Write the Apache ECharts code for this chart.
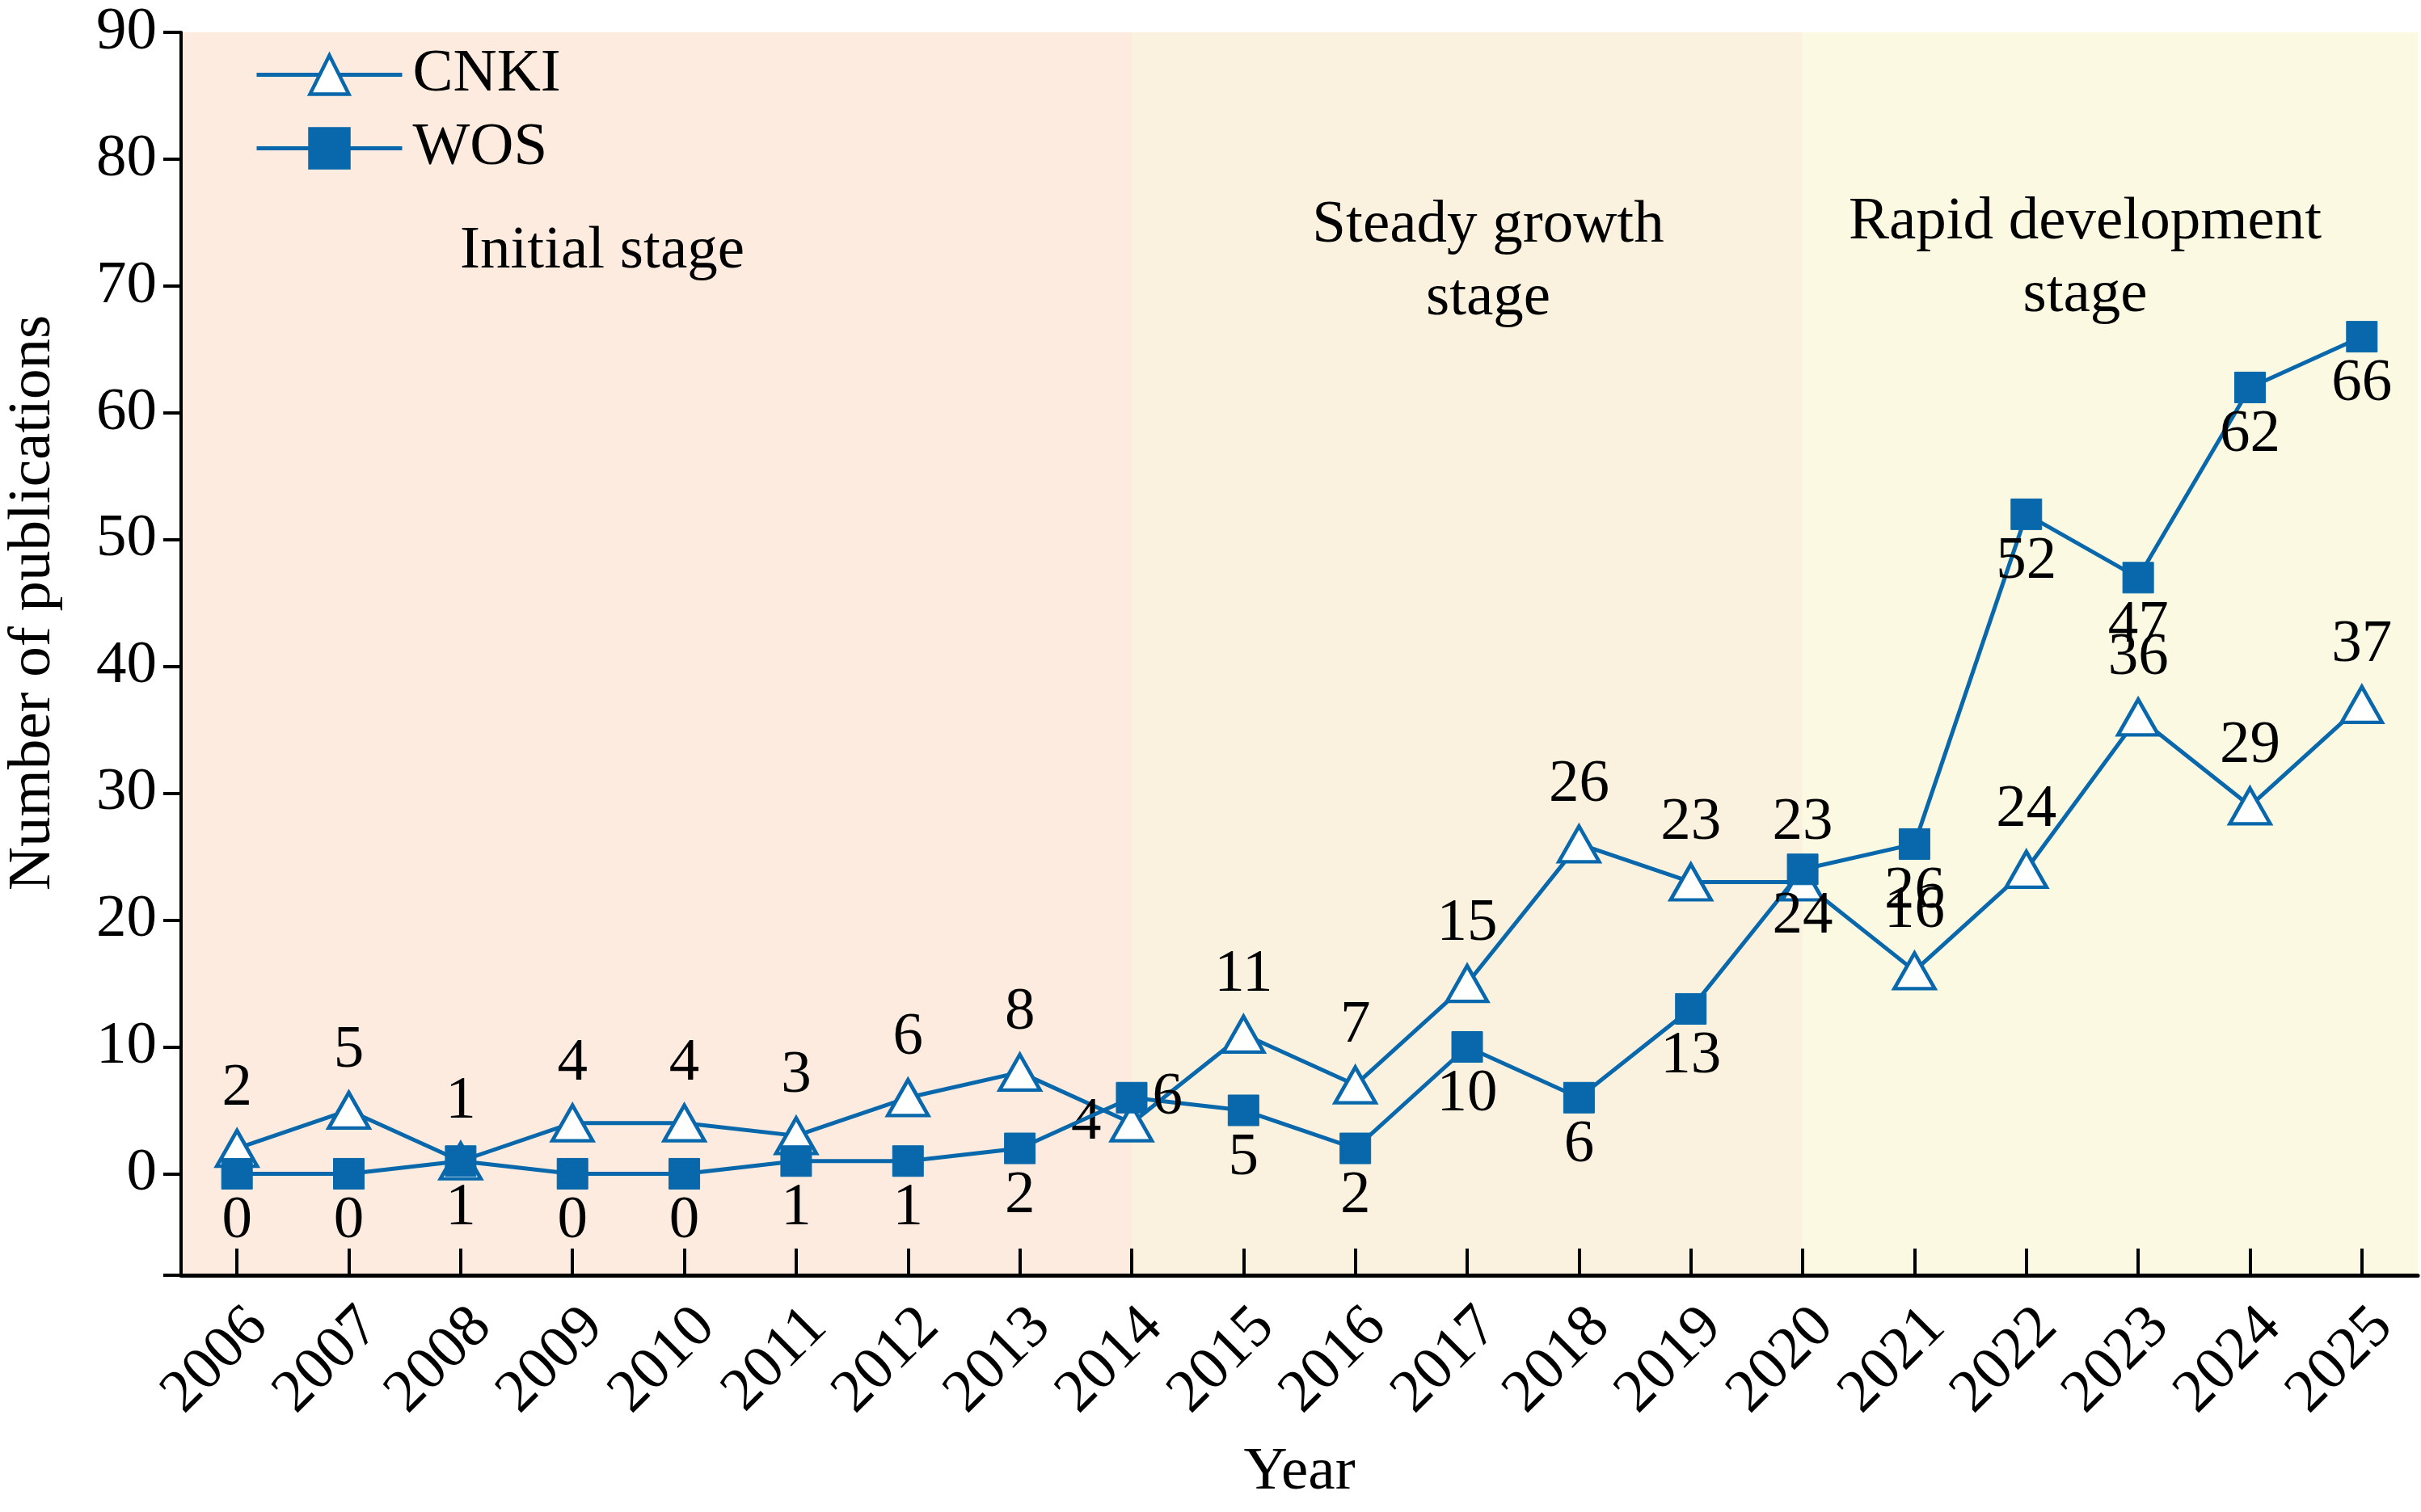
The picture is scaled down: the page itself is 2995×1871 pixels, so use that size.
<!DOCTYPE html>
<html>
<head>
<meta charset="utf-8">
<script src="https://cdn.jsdelivr.net/npm/echarts@6/dist/echarts.min.js"></script>
<style>
  html, body { margin: 0; padding: 0; background: #fff; }
  #chart { width: 2995px; height: 1871px; }
</style>
</head>
<body>
<div id="chart"></div>
<script>
var years = ['2006', '2007', '2008', '2009', '2010', '2011', '2012', '2013', '2014', '2015',
             '2016', '2017', '2018', '2019', '2020', '2021', '2022', '2023', '2024', '2025'];
var cnki = [2, 5, 1, 4, 4, 3, 6, 8, 4, 11, 7, 15, 26, 23, 23, 16, 24, 36, 29, 37];
var wos  = [0, 0, 1, 0, 0, 1, 1, 2, 6, 5, 2, 10, 6, 13, 24, 26, 52, 47, 62, 66];
var yMin = -8, yMax = 90, yStep = 10;

// stages: boundaries fall on these years
var stageNames = ['Initial stage', 'Steady growth\nstage', 'Rapid development\nstage'];
var stageBreaks = ['2014', '2020'];
var stageColors = ['#fcebde', '#fbf1df', '#fcf9e2'];

var blue = '#0868ab';
var font = '"Liberation Serif", "Times New Roman", serif';
var fs = 75;

var edges = [0];
stageBreaks.forEach(function (y) { edges.push(years.indexOf(y) + 0.5); });
edges.push(years.length);

// label tweak per stage (offset from centre of the shaded box)
var stageLabelPos = [
    { distance: 226, offset: [-67, 0] },
    { distance: 194, offset: [26, 0] },
    { distance: 190, offset: [-31, 0] }
];

var areas = stageNames.map(function (name, i) {
    return [{
        xAxis: edges[i],
        name: name,
        itemStyle: { color: stageColors[i] },
        label: {
            show: true,
            position: 'insideTop',
            distance: stageLabelPos[i].distance,
            offset: stageLabelPos[i].offset,
            fontSize: fs,
            lineHeight: 90,
            fontFamily: font,
            color: '#000',
            align: 'center'
        }
    }, { xAxis: edges[i + 1] }];
});

var cnkiData = cnki.map(function (v, i) {
    if (years[i] === '2014') return { value: v, label: { position: 'left', distance: 10 } };
    return v;
});
var wosData = wos.map(function (v, i) {
    if (years[i] === '2014') return { value: v, label: { position: 'right', distance: 6 } };
    return v;
});

var myChart = echarts.init(document.getElementById('chart'));
var option = {
    animation: false,
    textStyle: { fontFamily: font, color: '#000' },
    grid: { left: 224, right: 4, top: 40, bottom: 293, containLabel: false, outerBoundsMode: 'none' },
    legend: {
        data: ['CNKI', 'WOS'],
        zlevel: 1,
        orient: 'vertical',
        left: 310,
        top: 50,
        itemWidth: 180,
        itemHeight: 60,
        itemGap: 16,
        lineStyle: { width: 5 },
        itemStyle: { borderWidth: 4.5 },
        textStyle: { fontSize: fs, fontFamily: font, color: '#000', padding: [0, 0, 0, 8] }
    },
    xAxis: [{
        type: 'category',
        data: years,
        boundaryGap: true,
        zlevel: 1,
        z: 10,
        name: 'Year',
        nameLocation: 'middle',
        nameGap: 207,
        nameTextStyle: { fontSize: fs, fontFamily: font, color: '#000' },
        axisLine: { show: true, onZero: false, lineStyle: { color: '#000', width: 5 } },
        axisTick: { show: true, inside: true, alignWithLabel: true, length: 33, lineStyle: { color: '#000', width: 4 } },
        axisLabel: { rotate: 45, margin: 26, verticalAlign: 'top', fontSize: fs, fontFamily: font, color: '#000', interval: 0 },
        splitLine: { show: false }
    }, {
        type: 'value',
        min: 0,
        max: years.length,
        show: false
    }],
    yAxis: {
        type: 'value',
        min: yMin,
        max: yMax,
        minInterval: yStep,
        maxInterval: yStep,
        zlevel: 1,
        z: 10,
        name: 'Number of publications',
        nameLocation: 'middle',
        nameGap: 145,
        nameTextStyle: { fontSize: fs, fontFamily: font, color: '#000', padding: [0, 0, 0, 126] },
        axisLine: { show: true, onZero: false, lineStyle: { color: '#000', width: 4 } },
        axisTick: { show: true, inside: false, length: 22, lineStyle: { color: '#000', width: 4 } },
        axisLabel: {
            margin: 30, fontSize: fs, fontFamily: font, color: '#000',
            formatter: function (v) { return v < 0 ? '' : String(v); }
        },
        splitLine: { show: false }
    },
    series: [
        {
            name: 'stages',
            type: 'line',
            xAxisIndex: 1,
            data: [],
            z: 1,
            silent: true,
            markArea: { silent: true, data: areas }
        },
        {
            name: 'CNKI',
            type: 'line',
            data: cnkiData,
            zlevel: 1,
            z: 3,
            symbol: 'triangle',
            symbolSize: [50, 44],
            lineStyle: { color: blue, width: 5 },
            itemStyle: { color: '#fff', borderColor: blue, borderWidth: 4.5 },
            label: { show: true, position: 'top', distance: 12, fontSize: fs, fontFamily: font, color: '#000' }
        },
        {
            name: 'WOS',
            type: 'line',
            data: wosData,
            zlevel: 1,
            z: 4,
            symbol: 'rect',
            symbolSize: 38,
            lineStyle: { color: blue, width: 5 },
            itemStyle: { color: blue, borderColor: blue, borderWidth: 1 },
            label: { show: true, position: 'bottom', distance: 2, fontSize: fs, fontFamily: font, color: '#000' }
        }
    ]
};
myChart.setOption(option);
</script>
</body>
</html>
